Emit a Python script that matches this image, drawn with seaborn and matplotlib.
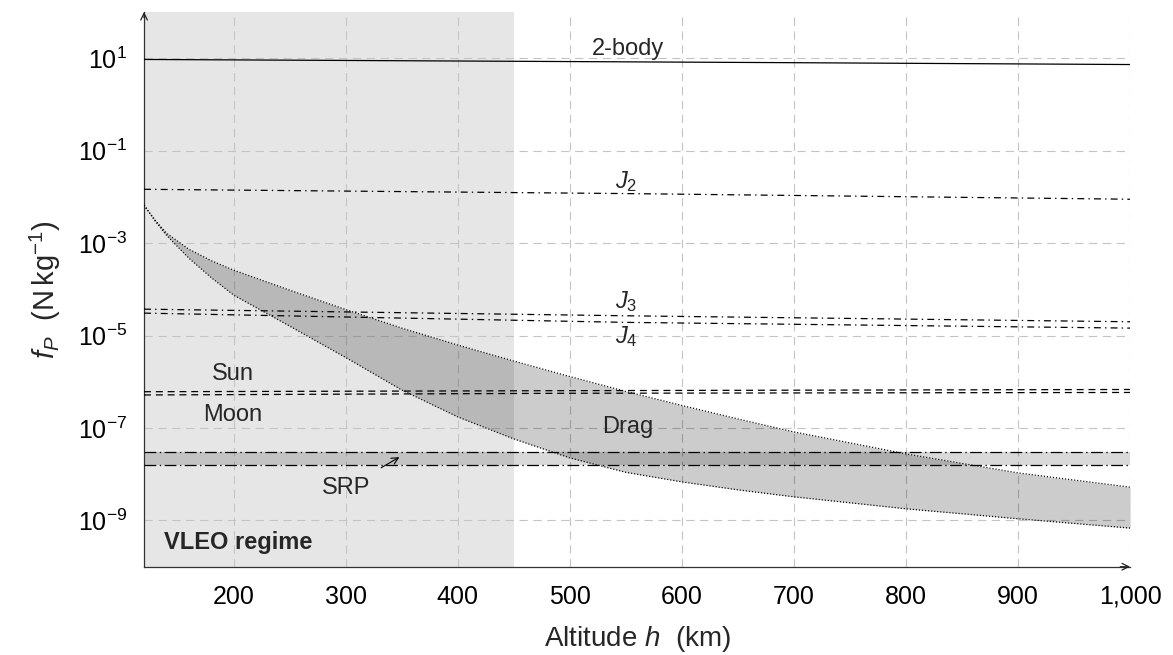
import matplotlib
matplotlib.use("Agg")
import matplotlib.pyplot as plt
import numpy as np
import pandas as pd
import seaborn as sns

# ---- perturbing accelerations f_P (N/kg) versus altitude h (km) ----
alt_two_body = [120, 400, 700, 1000]
f_two_body = [9.4, 8.7, 8.0, 7.3]

alt_zonal = [120, 550, 1000]
f_j2 = [1.46e-2, 1.18e-2, 8.9e-3]
f_j3 = [3.73e-5, 2.68e-5, 1.99e-5]
f_j4 = [3.06e-5, 1.93e-5, 1.45e-5]

alt_third_body = [120, 500, 1000]
f_sun = [6.1e-7, 6.43e-7, 6.82e-7]
f_moon = [5.19e-7, 5.65e-7, 5.88e-7]

alt_srp = [120, 1000]
f_srp_high = [3.09e-8, 3.09e-8]
f_srp_low = [1.60e-8, 1.60e-8]

alt_drag = [120, 130, 140, 160, 180, 200, 250, 300, 350, 400, 450, 500,
            550, 600, 650, 700, 800, 900, 1000]
f_drag_high = [6.59e-3, 3.13e-3, 1.64e-3, 7.38e-4, 4.17e-4, 2.60e-4, 9.6e-5,
               3.65e-5, 1.45e-5, 6.24e-6, 2.81e-6, 1.30e-6, 6.18e-7, 3.08e-7,
               1.57e-7, 8.24e-8, 2.76e-8, 1.07e-8, 5.26e-9]
f_drag_low = [6.59e-3, 2.97e-3, 1.48e-3, 4.72e-4, 1.79e-4, 7.50e-5, 1.60e-5,
              3.35e-6, 6.65e-7, 1.74e-7, 5.82e-8, 2.26e-8, 1.10e-8, 6.85e-9,
              4.60e-9, 3.25e-9, 1.79e-9, 1.09e-9, 6.85e-10]

vleo_limit = 450
x_ticks = [200, 300, 400, 500, 600, 700, 800, 900, 1000]
x_tick_labels = ["200", "300", "400", "500", "600", "700", "800", "900", "1,000"]
y_ticks = [1e1, 1e-1, 1e-3, 1e-5, 1e-7, 1e-9]
y_tick_labels = [r"$10^{1}$", r"$10^{-1}$", r"$10^{-3}$", r"$10^{-5}$",
                 r"$10^{-7}$", r"$10^{-9}$"]

sns.set_theme(style="white")
plt.rcParams["font.family"] = ["Liberation Sans", "DejaVu Sans"]
plt.rcParams["mathtext.fontset"] = "custom"
plt.rcParams["mathtext.rm"] = "Liberation Sans"
plt.rcParams["mathtext.it"] = "Liberation Sans:italic"
plt.rcParams["mathtext.bf"] = "Liberation Sans:bold"
plt.rcParams["lines.scale_dashes"] = False

fig = plt.figure(figsize=(11.73, 6.55), dpi=100)
ax = fig.add_axes([0.1228, 0.1348, 0.8406, 0.8469])
ax.set_yscale("log")
ax.set_xlim(120, 1000)
ax.set_ylim(1e-10, 1e2)

# VLEO band
ax.axvspan(120, vleo_limit, color="#e6e6e6", lw=0, zorder=0.2)

lw = 0.9
dashdot = (0, (5, 3, 1, 3))
srp_style = (0, (8.5, 2.5, 1, 2.5))
dashed = (0, (5, 3.5))
dotted = (0, (0.8, 1.4))


def draw(x, y, ls):
    df = pd.DataFrame({"h": x, "f": y})
    sns.lineplot(data=df, x="h", y="f", ax=ax, color="black", lw=lw,
                 linestyle=ls, zorder=3)


# drag envelope
ax.fill_between(alt_drag, f_drag_low, f_drag_high, color="black", alpha=0.2,
                lw=0, zorder=1)
draw(alt_drag, f_drag_high, dotted)
draw(alt_drag, f_drag_low, dotted)

# SRP envelope
ax.fill_between(alt_srp, f_srp_low, f_srp_high, color="black", alpha=0.15,
                lw=0, zorder=1)
draw(alt_srp, f_srp_high, srp_style)
draw(alt_srp, f_srp_low, srp_style)

draw(alt_two_body, f_two_body, "-")
draw(alt_zonal, f_j2, dashdot)
draw(alt_zonal, f_j3, dashdot)
draw(alt_zonal, f_j4, dashdot)
draw(alt_third_body, f_sun, dashed)
draw(alt_third_body, f_moon, dashed)

# labels on curves
fs_note = 17
ax.text(552, 10**1.19, "2-body", ha="center", va="center", fontsize=fs_note)
ax.text(550, 10**-1.66, r"$J_2$", ha="center", va="center", fontsize=fs_note)
ax.text(550, 10**-4.27, r"$J_3$", ha="center", va="center", fontsize=fs_note)
ax.text(550, 10**-5.03, r"$J_4$", ha="center", va="center", fontsize=fs_note)
ax.text(199, 10**-5.84, "Sun", ha="center", va="center", fontsize=fs_note)
ax.text(199, 10**-6.72, "Moon", ha="center", va="center", fontsize=fs_note)
ax.text(552, 10**-6.97, "Drag", ha="center", va="center", fontsize=fs_note)
ax.text(300, 10**-8.30, "SRP", ha="center", va="center", fontsize=fs_note)
ax.text(138, 10**-9.48, "VLEO regime", ha="left", va="center",
        fontsize=fs_note, fontweight="bold")
ax.annotate("", xy=(350, 10**-7.60), xytext=(329.5, 10**-7.89),
            arrowprops=dict(arrowstyle="->", lw=0.8, color="black"))

# grid, ticks, axes
ax.set_axisbelow(True)
ax.xaxis.set_major_locator(matplotlib.ticker.FixedLocator(x_ticks))
ax.set_xticklabels(x_tick_labels)
ax.yaxis.set_major_locator(matplotlib.ticker.FixedLocator(y_ticks))
ax.yaxis.set_minor_locator(matplotlib.ticker.NullLocator())
ax.set_yticklabels(y_tick_labels)
ax.grid(True, which="major", color="#c4c4c4", lw=0.8, linestyle=(0, (6, 4)))
ax.tick_params(axis="both", which="major", direction="inout", length=6,
               width=0.8, color="#555555", labelsize=18, labelcolor="black")
ax.tick_params(axis="x", pad=10)
ax.tick_params(axis="y", pad=9)

for side in ("top", "right"):
    ax.spines[side].set_visible(False)
for side in ("left", "bottom"):
    ax.spines[side].set_color("#333333")
    ax.spines[side].set_linewidth(0.9)
for tip, tail in (((0, 1.0), (0, 0.99)), ((1.0, 0), (0.99, 0))):
    ax.annotate("", xy=tip, xytext=tail, xycoords="axes fraction",
                arrowprops=dict(arrowstyle="->", lw=0.9, color="#222222",
                                shrinkA=0, shrinkB=0, mutation_scale=12))

ax.set_xlabel(r"Altitude $h$  (km)", fontsize=20, labelpad=11)
ax.set_ylabel(r"$f_P$  (N$\,$kg$^{-1}$)", fontsize=21, labelpad=11)

fig.savefig("out.png", dpi=100, facecolor="white")
